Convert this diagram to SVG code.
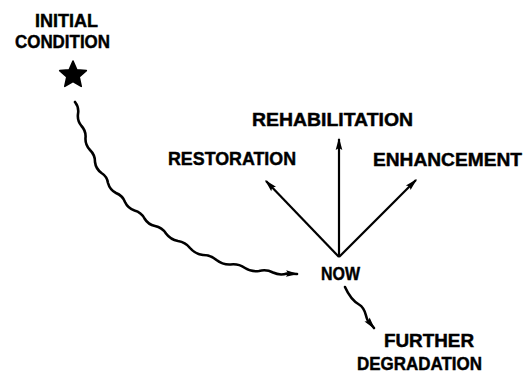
<svg xmlns="http://www.w3.org/2000/svg" width="530" height="372" viewBox="0 0 530 372">
  <style>
    .lbl { font-family: "Liberation Sans", Arial, sans-serif; font-weight: bold; font-size: 18.5px; fill: #000; stroke: #000; stroke-width: 0.45; }
    .line { fill: none; stroke: #000; stroke-width: 2.2; stroke-linecap: butt; stroke-linejoin: round; }
    .wave { fill: none; stroke: #000; stroke-width: 2.6; stroke-linecap: round; stroke-linejoin: round; }
  </style>
  <defs>
    <marker id="head" markerUnits="userSpaceOnUse" viewBox="-13 -5 15 10" refX="0" refY="0" markerWidth="15" markerHeight="10" orient="auto">
      <path d="M1.5,0 L-11,-3.3 L-9,0 L-11,3.3 Z" fill="#000"/>
    </marker>
  </defs>

  <rect width="530" height="372" fill="#fff"/>

  <!-- starting state -->
  <g id="initial-condition">
    <text class="lbl" x="35" y="26.5" textLength="63" lengthAdjust="spacingAndGlyphs">INITIAL</text>
    <text class="lbl" x="15" y="48" textLength="95" lengthAdjust="spacingAndGlyphs">CONDITION</text>
    <polygon points="73,61 76.82,69.74 86.31,70.67 79.18,77.01 81.23,86.33 73,81.5 64.77,86.33 66.82,77.01 59.69,70.67 69.18,69.74" fill="#000" stroke="#000" stroke-width="1.6" stroke-linejoin="round"/>
  </g>

  <g id="now">
    <text class="lbl" x="321" y="280" textLength="39" lengthAdjust="spacingAndGlyphs">NOW</text>
  </g>

  <g id="restoration">
    <text class="lbl" x="168" y="165" textLength="128" lengthAdjust="spacingAndGlyphs">RESTORATION</text>
  </g>

  <g id="rehabilitation">
    <text class="lbl" x="252" y="126" textLength="161" lengthAdjust="spacingAndGlyphs">REHABILITATION</text>
  </g>

  <g id="enhancement">
    <text class="lbl" x="373" y="166" textLength="149" lengthAdjust="spacingAndGlyphs">ENHANCEMENT</text>
  </g>

  <g id="further-degradation">
    <text class="lbl" x="384" y="347" textLength="90" lengthAdjust="spacingAndGlyphs">FURTHER</text>
    <text class="lbl" x="357" y="369.5" textLength="125" lengthAdjust="spacingAndGlyphs">DEGRADATION</text>
  </g>

  <g id="connectors">
    <!-- decline from the initial condition to now: alternating quadratic bows along a sweeping curve -->
    <path class="wave" marker-end="url(#head)" d="M75,102 Q79.2,107.3 78,114 Q77.1,120.8 81.5,126 Q86.2,131.1 85.5,138 Q85.1,145 90,150 Q95.1,154.9 95,162 Q95.8,168.9 101.5,173 Q107.1,176.5 108,183 Q109.8,189.75 116,193 Q122.5,195.5 125,202 Q127.9,208.3 134.5,210.5 Q141.25,212.3 144.5,218.5 Q148.1,224.5 155,226 Q162.1,227.4 166,233.5 Q170.5,239.6 178,241 Q185.4,242.1 190,248 Q195.2,254 203,255 Q210.7,254.9 216.5,260 Q222.6,264.9 230.5,264.5 Q238.4,263.5 245,268 Q251.4,272.2 259,271 Q266.3,269 273,272.5 Q279.8,275.8 287,273.5 L297,274"/>
    <!-- management options branching from now -->
    <line class="line" x1="339" y1="257" x2="266" y2="181" marker-end="url(#head)"/>
    <line class="line" x1="339" y1="257" x2="339" y2="139" marker-end="url(#head)"/>
    <line class="line" x1="339" y1="257" x2="416" y2="180" marker-end="url(#head)"/>
    <!-- continued decline -->
    <path class="wave" marker-end="url(#head)" d="M345,287 C349,296 353,301 359,304.5 C366,308.5 365,315 367.5,320 L374,328"/>
  </g>
</svg>
